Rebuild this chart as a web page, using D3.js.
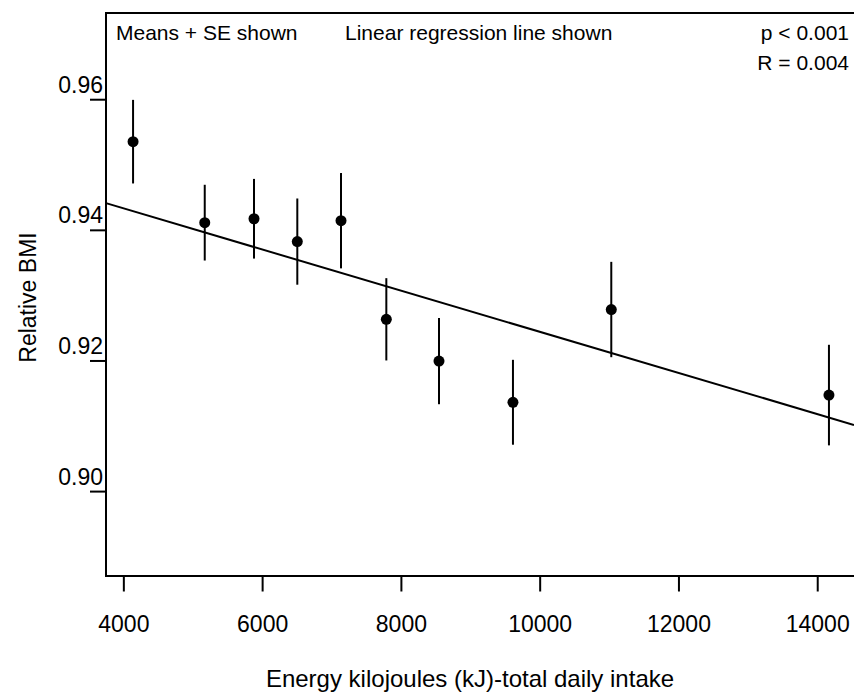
<!DOCTYPE html>
<html>
<head>
<meta charset="utf-8">
<script src="https://cdn.jsdelivr.net/npm/d3@7"></script>
<style>
  body { margin: 0; background: #fff; }
  svg { display: block; font-family: "Liberation Sans", Arial, Helvetica, sans-serif; }
</style>
</head>
<body>
<div id="chart"></div>
<script>
// values
var energyKJ = [4140, 5173, 5883, 6507, 7137, 7790, 8549, 9615, 11032, 14169];
var meanBMI  = [0.9535, 0.9411, 0.9417, 0.9382, 0.9414, 0.9263, 0.9199, 0.9136, 0.9278, 0.9147];
var seBMI    = [0.0064, 0.0058, 0.0061, 0.0066, 0.0073, 0.0063, 0.0066, 0.0065, 0.0073, 0.0077];
var xTicks = [4000, 6000, 8000, 10000, 12000, 14000];
var yTicks = [0.90, 0.92, 0.94, 0.96];
var regIntercept = 0.9559;
var regSlope = -3.15e-6;
var notes = ["Means + SE shown", "Linear regression line shown"];
var stats = ["p < 0.001", "R = 0.004"];

var W = 854, H = 692;
var margin = {top: 13, right: 0, bottom: 116, left: 106};

var svg = d3.select("#chart").append("svg")
    .attr("width", W)
    .attr("height", H);

var x = d3.scaleLinear().domain([3750, 14530]).range([margin.left, W - margin.right]);
var y = d3.scaleLinear().domain([0.887, 0.9732]).range([H - margin.bottom, margin.top]);

var data = energyKJ.map(function(e, i) {
    return {kj: e, bmi: meanBMI[i], se: seBMI[i]};
});

// x axis
var xAxis = svg.append("g")
    .attr("transform", "translate(0," + (H - margin.bottom + 0.5) + ")")
    .call(d3.axisBottom(x).tickValues(xTicks).tickSize(15).tickPadding(24).tickFormat(d3.format("d")));
xAxis.select(".domain").remove();
xAxis.selectAll("line").attr("stroke", "#000").attr("stroke-width", 2);
xAxis.selectAll("text").attr("fill", "#000").style("font-size", "23px").style("font-family", "inherit");

// y axis
var yAxis = svg.append("g")
    .attr("transform", "translate(" + margin.left + ",0)")
    .call(d3.axisLeft(y).tickValues(yTicks).tickSize(16).tickFormat(d3.format(".2f")));
yAxis.select(".domain").remove();
yAxis.selectAll("line").attr("stroke", "#000").attr("stroke-width", 2);
yAxis.selectAll("text")
    .attr("x", -3)
    .attr("dy", null)
    .attr("y", -7)
    .attr("fill", "#000")
    .style("text-anchor", "end")
    .style("font-size", "23px")
    .style("font-family", "inherit");

// frame (right side runs off the canvas)
svg.append("path")
    .attr("d", "M" + (W + 5) + "," + y.range()[1] + "H" + x.range()[0] + "V" + y.range()[0] + "H" + (W + 5))
    .attr("fill", "none")
    .attr("stroke", "#000")
    .attr("stroke-width", 2);

// regression line
var xd = x.domain();
svg.append("line")
    .attr("x1", x(xd[0])).attr("y1", y(regIntercept + regSlope * xd[0]))
    .attr("x2", x(xd[1])).attr("y2", y(regIntercept + regSlope * xd[1]))
    .attr("stroke", "#000")
    .attr("stroke-width", 2);

// error bars
svg.selectAll(".se")
    .data(data)
    .enter().append("line")
    .attr("class", "se")
    .attr("x1", function(d) { return x(d.kj); })
    .attr("x2", function(d) { return x(d.kj); })
    .attr("y1", function(d) { return y(d.bmi + d.se); })
    .attr("y2", function(d) { return y(d.bmi - d.se); })
    .attr("stroke", "#000")
    .attr("stroke-width", 2);

// means
svg.selectAll(".mean")
    .data(data)
    .enter().append("circle")
    .attr("class", "mean")
    .attr("cx", function(d) { return x(d.kj); })
    .attr("cy", function(d) { return y(d.bmi); })
    .attr("r", 5.5)
    .attr("fill", "#000");

// annotations
svg.append("text").attr("x", 116).attr("y", 39.5).style("font-size", "21px").text(notes[0]);
svg.append("text").attr("x", 345).attr("y", 39.5).style("font-size", "21px").text(notes[1]);
svg.selectAll(".stat")
    .data(stats)
    .enter().append("text")
    .attr("class", "stat")
    .attr("x", 849)
    .attr("y", function(d, i) { return 39.5 + i * 30; })
    .style("text-anchor", "end")
    .style("font-size", "21px")
    .text(function(d) { return d; });

// axis titles
svg.append("text")
    .attr("x", 470)
    .attr("y", 687)
    .style("text-anchor", "middle")
    .style("font-size", "24px")
    .text("Energy kilojoules (kJ)-total daily intake");

svg.append("text")
    .attr("transform", "translate(36," + ((y.range()[0] + y.range()[1]) / 2 + 3) + ") rotate(-90)")
    .style("text-anchor", "middle")
    .style("font-size", "23px")
    .text("Relative BMI");
</script>
</body>
</html>
